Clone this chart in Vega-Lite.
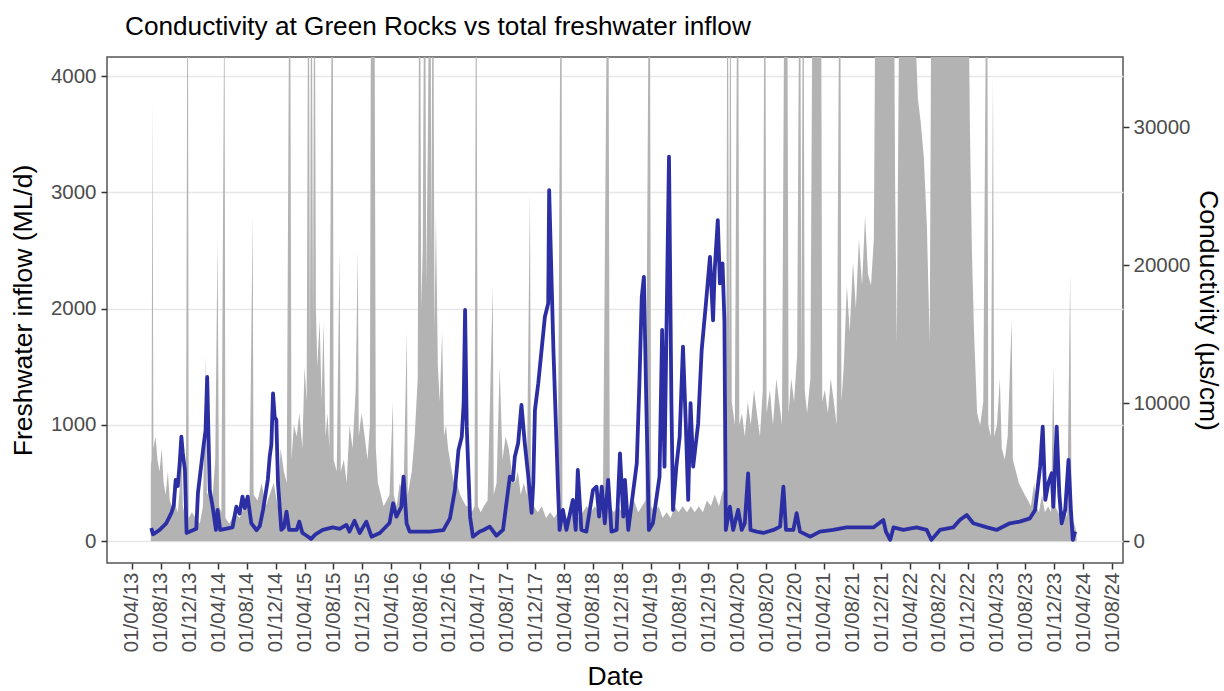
{
  "$schema": "https://vega.github.io/schema/vega-lite/v6.json",
  "width": 1016,
  "height": 506,
  "autosize": {"type": "none"},
  "padding": {"left": 107, "top": 57, "right": 101, "bottom": 128},
  "background": "white",
  "title": {
    "text": "Conductivity at Green Rocks vs total freshwater inflow",
    "anchor": "start",
    "frame": "group",
    "dx": 18,
    "offset": 17,
    "font": "Liberation Sans",
    "fontSize": 26.2,
    "fontWeight": "normal",
    "color": "#000000"
  },
  "config": {
    "view": {"stroke": "#555555", "strokeWidth": 1.5},
    "axis": {
      "labelFont": "Liberation Sans",
      "titleFont": "Liberation Sans",
      "labelFontSize": 20.5,
      "titleFontSize": 26.5,
      "titleFontWeight": "normal",
      "labelColor": "#4d4d4d",
      "titleColor": "#000000",
      "tickColor": "#333333",
      "tickWidth": 1.5,
      "tickSize": 6,
      "domain": false
    }
  },
  "datasets": {
    "inflow": [
      {"date": "2013-06-21", "inflow": 650},
      {"date": "2013-06-24", "inflow": 700},
      {"date": "2013-06-28", "inflow": 3800},
      {"date": "2013-07-02", "inflow": 800},
      {"date": "2013-07-11", "inflow": 900},
      {"date": "2013-07-19", "inflow": 700},
      {"date": "2013-07-28", "inflow": 600},
      {"date": "2013-08-06", "inflow": 800},
      {"date": "2013-08-14", "inflow": 500},
      {"date": "2013-08-23", "inflow": 400},
      {"date": "2013-09-01", "inflow": 600},
      {"date": "2013-09-09", "inflow": 350},
      {"date": "2013-09-18", "inflow": 300},
      {"date": "2013-09-26", "inflow": 500},
      {"date": "2013-10-04", "inflow": 300},
      {"date": "2013-10-13", "inflow": 250},
      {"date": "2013-10-21", "inflow": 450},
      {"date": "2013-10-29", "inflow": 870},
      {"date": "2013-11-03", "inflow": 300},
      {"date": "2013-11-16", "inflow": 200},
      {"date": "2013-11-24", "inflow": 6000},
      {"date": "2013-11-28", "inflow": 200},
      {"date": "2013-12-11", "inflow": 250},
      {"date": "2013-12-28", "inflow": 200},
      {"date": "2014-01-14", "inflow": 150},
      {"date": "2014-01-27", "inflow": 300},
      {"date": "2014-02-09", "inflow": 1600},
      {"date": "2014-02-13", "inflow": 400},
      {"date": "2014-02-25", "inflow": 450},
      {"date": "2014-03-08", "inflow": 350},
      {"date": "2014-03-20", "inflow": 700},
      {"date": "2014-03-30", "inflow": 2600},
      {"date": "2014-04-05", "inflow": 300},
      {"date": "2014-04-15", "inflow": 250},
      {"date": "2014-04-28", "inflow": 5000},
      {"date": "2014-05-02", "inflow": 200},
      {"date": "2014-05-19", "inflow": 150},
      {"date": "2014-06-10", "inflow": 250},
      {"date": "2014-07-01", "inflow": 200},
      {"date": "2014-07-21", "inflow": 300},
      {"date": "2014-08-12", "inflow": 400},
      {"date": "2014-08-25", "inflow": 2800},
      {"date": "2014-08-29", "inflow": 400},
      {"date": "2014-09-15", "inflow": 350},
      {"date": "2014-10-02", "inflow": 500},
      {"date": "2014-10-19", "inflow": 300},
      {"date": "2014-11-05", "inflow": 400},
      {"date": "2014-11-22", "inflow": 500},
      {"date": "2014-12-09", "inflow": 300},
      {"date": "2014-12-21", "inflow": 800},
      {"date": "2015-01-04", "inflow": 600},
      {"date": "2015-01-16", "inflow": 500},
      {"date": "2015-01-29", "inflow": 6000},
      {"date": "2015-02-05", "inflow": 700},
      {"date": "2015-02-15", "inflow": 1000},
      {"date": "2015-02-27", "inflow": 900},
      {"date": "2015-03-10", "inflow": 1100},
      {"date": "2015-03-23", "inflow": 800},
      {"date": "2015-04-01", "inflow": 1500},
      {"date": "2015-04-10", "inflow": 1200},
      {"date": "2015-04-18", "inflow": 6000},
      {"date": "2015-04-24", "inflow": 1500},
      {"date": "2015-04-30", "inflow": 6000},
      {"date": "2015-05-07", "inflow": 1800},
      {"date": "2015-05-13", "inflow": 6000},
      {"date": "2015-05-19", "inflow": 2000},
      {"date": "2015-05-25", "inflow": 1500},
      {"date": "2015-06-04", "inflow": 1900},
      {"date": "2015-06-12", "inflow": 1200},
      {"date": "2015-06-20", "inflow": 1880},
      {"date": "2015-06-29", "inflow": 900},
      {"date": "2015-07-07", "inflow": 1100},
      {"date": "2015-07-15", "inflow": 800},
      {"date": "2015-07-28", "inflow": 6000},
      {"date": "2015-08-02", "inflow": 700},
      {"date": "2015-08-15", "inflow": 600},
      {"date": "2015-08-27", "inflow": 2500},
      {"date": "2015-09-01", "inflow": 600},
      {"date": "2015-09-14", "inflow": 700},
      {"date": "2015-09-26", "inflow": 500},
      {"date": "2015-10-08", "inflow": 1000},
      {"date": "2015-10-21", "inflow": 800},
      {"date": "2015-11-03", "inflow": 1300},
      {"date": "2015-11-12", "inflow": 2500},
      {"date": "2015-11-16", "inflow": 900},
      {"date": "2015-11-28", "inflow": 1100},
      {"date": "2015-12-11", "inflow": 900},
      {"date": "2015-12-23", "inflow": 700},
      {"date": "2016-01-02", "inflow": 1000},
      {"date": "2016-01-08", "inflow": 6000},
      {"date": "2016-01-14", "inflow": 6000},
      {"date": "2016-01-20", "inflow": 6000},
      {"date": "2016-01-27", "inflow": 800},
      {"date": "2016-02-05", "inflow": 500},
      {"date": "2016-02-17", "inflow": 400},
      {"date": "2016-02-29", "inflow": 300},
      {"date": "2016-03-13", "inflow": 350},
      {"date": "2016-03-25", "inflow": 400},
      {"date": "2016-04-08", "inflow": 1200},
      {"date": "2016-04-12", "inflow": 400},
      {"date": "2016-04-24", "inflow": 300},
      {"date": "2016-05-07", "inflow": 500},
      {"date": "2016-05-23", "inflow": 400},
      {"date": "2016-06-06", "inflow": 1800},
      {"date": "2016-06-10", "inflow": 400},
      {"date": "2016-06-27", "inflow": 600},
      {"date": "2016-07-09", "inflow": 900},
      {"date": "2016-07-22", "inflow": 1400},
      {"date": "2016-07-30", "inflow": 6000},
      {"date": "2016-08-06", "inflow": 2000},
      {"date": "2016-08-12", "inflow": 2500},
      {"date": "2016-08-21", "inflow": 6000},
      {"date": "2016-08-27", "inflow": 2200},
      {"date": "2016-09-03", "inflow": 3500},
      {"date": "2016-09-12", "inflow": 6000},
      {"date": "2016-09-18", "inflow": 2500},
      {"date": "2016-09-24", "inflow": 6000},
      {"date": "2016-10-01", "inflow": 1800},
      {"date": "2016-10-07", "inflow": 2800},
      {"date": "2016-10-15", "inflow": 1500},
      {"date": "2016-10-23", "inflow": 1200},
      {"date": "2016-11-02", "inflow": 1800},
      {"date": "2016-11-10", "inflow": 900},
      {"date": "2016-11-18", "inflow": 1000},
      {"date": "2016-11-27", "inflow": 800},
      {"date": "2016-12-05", "inflow": 700},
      {"date": "2016-12-13", "inflow": 600},
      {"date": "2016-12-22", "inflow": 500},
      {"date": "2017-01-04", "inflow": 500},
      {"date": "2017-01-17", "inflow": 400},
      {"date": "2017-01-29", "inflow": 350},
      {"date": "2017-02-12", "inflow": 300},
      {"date": "2017-02-24", "inflow": 300},
      {"date": "2017-03-07", "inflow": 250},
      {"date": "2017-03-19", "inflow": 300},
      {"date": "2017-03-26", "inflow": 6000},
      {"date": "2017-04-02", "inflow": 300},
      {"date": "2017-04-14", "inflow": 250},
      {"date": "2017-04-27", "inflow": 300},
      {"date": "2017-05-13", "inflow": 350},
      {"date": "2017-06-04", "inflow": 2200},
      {"date": "2017-06-08", "inflow": 400},
      {"date": "2017-06-20", "inflow": 500},
      {"date": "2017-07-03", "inflow": 1500},
      {"date": "2017-07-15", "inflow": 700},
      {"date": "2017-07-28", "inflow": 900},
      {"date": "2017-08-10", "inflow": 800},
      {"date": "2017-08-23", "inflow": 600},
      {"date": "2017-09-05", "inflow": 500},
      {"date": "2017-09-18", "inflow": 600},
      {"date": "2017-09-30", "inflow": 400},
      {"date": "2017-10-13", "inflow": 500},
      {"date": "2017-10-25", "inflow": 400},
      {"date": "2017-11-08", "inflow": 3000},
      {"date": "2017-11-12", "inflow": 400},
      {"date": "2017-11-24", "inflow": 300},
      {"date": "2017-12-11", "inflow": 250},
      {"date": "2017-12-28", "inflow": 300},
      {"date": "2018-01-15", "inflow": 200},
      {"date": "2018-02-01", "inflow": 250},
      {"date": "2018-02-18", "inflow": 200},
      {"date": "2018-03-05", "inflow": 250},
      {"date": "2018-03-20", "inflow": 6000},
      {"date": "2018-03-25", "inflow": 250},
      {"date": "2018-04-12", "inflow": 200},
      {"date": "2018-04-29", "inflow": 250},
      {"date": "2018-05-15", "inflow": 300},
      {"date": "2018-06-02", "inflow": 200},
      {"date": "2018-06-19", "inflow": 250},
      {"date": "2018-07-05", "inflow": 300},
      {"date": "2018-07-22", "inflow": 250},
      {"date": "2018-08-09", "inflow": 300},
      {"date": "2018-08-25", "inflow": 250},
      {"date": "2018-09-12", "inflow": 350},
      {"date": "2018-10-04", "inflow": 6000},
      {"date": "2018-10-11", "inflow": 300},
      {"date": "2018-10-28", "inflow": 250},
      {"date": "2018-11-15", "inflow": 300},
      {"date": "2018-12-01", "inflow": 250},
      {"date": "2018-12-18", "inflow": 300},
      {"date": "2019-01-05", "inflow": 250},
      {"date": "2019-01-21", "inflow": 350},
      {"date": "2019-02-08", "inflow": 250},
      {"date": "2019-02-24", "inflow": 300},
      {"date": "2019-03-11", "inflow": 350},
      {"date": "2019-03-28", "inflow": 6000},
      {"date": "2019-04-04", "inflow": 300},
      {"date": "2019-04-18", "inflow": 250},
      {"date": "2019-05-05", "inflow": 300},
      {"date": "2019-05-22", "inflow": 200},
      {"date": "2019-06-08", "inflow": 250},
      {"date": "2019-06-25", "inflow": 200},
      {"date": "2019-07-12", "inflow": 300},
      {"date": "2019-07-28", "inflow": 250},
      {"date": "2019-08-15", "inflow": 300},
      {"date": "2019-09-02", "inflow": 250},
      {"date": "2019-09-18", "inflow": 300},
      {"date": "2019-10-05", "inflow": 250},
      {"date": "2019-10-22", "inflow": 300},
      {"date": "2019-11-08", "inflow": 250},
      {"date": "2019-11-25", "inflow": 350},
      {"date": "2019-12-12", "inflow": 300},
      {"date": "2019-12-28", "inflow": 400},
      {"date": "2020-01-15", "inflow": 300},
      {"date": "2020-02-02", "inflow": 450},
      {"date": "2020-02-14", "inflow": 300},
      {"date": "2020-02-20", "inflow": 6000},
      {"date": "2020-02-27", "inflow": 1500},
      {"date": "2020-03-03", "inflow": 6000},
      {"date": "2020-03-09", "inflow": 1200},
      {"date": "2020-03-22", "inflow": 1000},
      {"date": "2020-04-04", "inflow": 6000},
      {"date": "2020-04-10", "inflow": 1000},
      {"date": "2020-04-21", "inflow": 1100},
      {"date": "2020-05-03", "inflow": 900},
      {"date": "2020-05-16", "inflow": 1200},
      {"date": "2020-05-28", "inflow": 1000},
      {"date": "2020-06-11", "inflow": 1300},
      {"date": "2020-06-23", "inflow": 1100},
      {"date": "2020-07-06", "inflow": 900},
      {"date": "2020-07-18", "inflow": 1300},
      {"date": "2020-07-27", "inflow": 6000},
      {"date": "2020-08-03", "inflow": 1100},
      {"date": "2020-08-17", "inflow": 1300},
      {"date": "2020-08-30", "inflow": 1000},
      {"date": "2020-09-13", "inflow": 1400},
      {"date": "2020-09-25", "inflow": 1200},
      {"date": "2020-10-07", "inflow": 1000},
      {"date": "2020-10-20", "inflow": 6000},
      {"date": "2020-10-28", "inflow": 6000},
      {"date": "2020-11-04", "inflow": 1100},
      {"date": "2020-11-15", "inflow": 1400},
      {"date": "2020-11-27", "inflow": 1200},
      {"date": "2020-12-10", "inflow": 1600},
      {"date": "2020-12-22", "inflow": 6000},
      {"date": "2020-12-28", "inflow": 1500},
      {"date": "2021-01-05", "inflow": 6000},
      {"date": "2021-01-11", "inflow": 1300},
      {"date": "2021-01-21", "inflow": 1100},
      {"date": "2021-02-04", "inflow": 1400},
      {"date": "2021-02-16", "inflow": 6000},
      {"date": "2021-02-25", "inflow": 6000},
      {"date": "2021-03-03", "inflow": 6000},
      {"date": "2021-03-11", "inflow": 6000},
      {"date": "2021-03-20", "inflow": 6000},
      {"date": "2021-03-26", "inflow": 1200},
      {"date": "2021-04-06", "inflow": 1300},
      {"date": "2021-04-19", "inflow": 1100},
      {"date": "2021-05-01", "inflow": 1400},
      {"date": "2021-05-14", "inflow": 1200},
      {"date": "2021-05-26", "inflow": 1000},
      {"date": "2021-06-09", "inflow": 6000},
      {"date": "2021-06-15", "inflow": 1200},
      {"date": "2021-06-25", "inflow": 1500},
      {"date": "2021-07-08", "inflow": 2200},
      {"date": "2021-07-20", "inflow": 1800},
      {"date": "2021-08-03", "inflow": 2400},
      {"date": "2021-08-15", "inflow": 2000},
      {"date": "2021-08-28", "inflow": 2600},
      {"date": "2021-09-10", "inflow": 2200},
      {"date": "2021-09-23", "inflow": 2800},
      {"date": "2021-10-05", "inflow": 2300},
      {"date": "2021-10-18", "inflow": 2200},
      {"date": "2021-10-30", "inflow": 2600},
      {"date": "2021-11-09", "inflow": 6000},
      {"date": "2021-11-25", "inflow": 6000},
      {"date": "2021-12-16", "inflow": 6000},
      {"date": "2022-01-07", "inflow": 6000},
      {"date": "2022-01-20", "inflow": 6000},
      {"date": "2022-01-28", "inflow": 3000},
      {"date": "2022-02-04", "inflow": 1700},
      {"date": "2022-02-10", "inflow": 3500},
      {"date": "2022-02-19", "inflow": 6000},
      {"date": "2022-03-10", "inflow": 6000},
      {"date": "2022-04-01", "inflow": 6000},
      {"date": "2022-04-13", "inflow": 6000},
      {"date": "2022-04-21", "inflow": 4500},
      {"date": "2022-05-04", "inflow": 3800},
      {"date": "2022-05-16", "inflow": 3600},
      {"date": "2022-05-29", "inflow": 3300},
      {"date": "2022-06-11", "inflow": 2700},
      {"date": "2022-06-23", "inflow": 1700},
      {"date": "2022-07-02", "inflow": 6000},
      {"date": "2022-08-05", "inflow": 6000},
      {"date": "2022-09-17", "inflow": 6000},
      {"date": "2022-10-28", "inflow": 6000},
      {"date": "2022-11-23", "inflow": 6000},
      {"date": "2022-12-02", "inflow": 5000},
      {"date": "2022-12-10", "inflow": 3500},
      {"date": "2022-12-18", "inflow": 2500},
      {"date": "2022-12-27", "inflow": 1800},
      {"date": "2023-01-09", "inflow": 1100},
      {"date": "2023-01-22", "inflow": 1000},
      {"date": "2023-02-04", "inflow": 1200},
      {"date": "2023-02-20", "inflow": 6000},
      {"date": "2023-02-25", "inflow": 1000},
      {"date": "2023-03-08", "inflow": 900},
      {"date": "2023-03-17", "inflow": 4000},
      {"date": "2023-03-22", "inflow": 900},
      {"date": "2023-04-03", "inflow": 1000},
      {"date": "2023-04-15", "inflow": 1400},
      {"date": "2023-04-23", "inflow": 800},
      {"date": "2023-05-06", "inflow": 700},
      {"date": "2023-05-18", "inflow": 900},
      {"date": "2023-06-04", "inflow": 1900},
      {"date": "2023-06-09", "inflow": 700},
      {"date": "2023-06-22", "inflow": 600},
      {"date": "2023-07-04", "inflow": 500},
      {"date": "2023-07-17", "inflow": 450},
      {"date": "2023-07-29", "inflow": 400},
      {"date": "2023-08-12", "inflow": 350},
      {"date": "2023-08-24", "inflow": 300},
      {"date": "2023-09-07", "inflow": 500},
      {"date": "2023-09-15", "inflow": 300},
      {"date": "2023-09-27", "inflow": 250},
      {"date": "2023-10-10", "inflow": 400},
      {"date": "2023-10-22", "inflow": 250},
      {"date": "2023-11-05", "inflow": 300},
      {"date": "2023-11-17", "inflow": 250},
      {"date": "2023-11-27", "inflow": 1500},
      {"date": "2023-12-04", "inflow": 300},
      {"date": "2023-12-17", "inflow": 250},
      {"date": "2023-12-29", "inflow": 200},
      {"date": "2024-01-12", "inflow": 300},
      {"date": "2024-01-24", "inflow": 200},
      {"date": "2024-02-06", "inflow": 2300},
      {"date": "2024-02-12", "inflow": 200},
      {"date": "2024-02-23", "inflow": 150},
      {"date": "2024-03-01", "inflow": 100},
      {"date": "2024-03-05", "inflow": 0}
    ],
    "cond": [
      {"date": "2013-06-23", "cond": 960},
      {"date": "2013-06-30", "cond": 500},
      {"date": "2013-07-27", "cond": 800},
      {"date": "2013-08-25", "cond": 1300},
      {"date": "2013-09-16", "cond": 2050},
      {"date": "2013-09-26", "cond": 2600},
      {"date": "2013-10-04", "cond": 4440},
      {"date": "2013-10-13", "cond": 4000},
      {"date": "2013-10-21", "cond": 5670},
      {"date": "2013-10-28", "cond": 7570},
      {"date": "2013-11-03", "cond": 6400},
      {"date": "2013-11-12", "cond": 5160},
      {"date": "2013-11-19", "cond": 600},
      {"date": "2013-12-03", "cond": 700},
      {"date": "2013-12-30", "cond": 900},
      {"date": "2014-01-06", "cond": 3500},
      {"date": "2014-01-21", "cond": 5670},
      {"date": "2014-01-31", "cond": 7100},
      {"date": "2014-02-07", "cond": 8000},
      {"date": "2014-02-14", "cond": 11900},
      {"date": "2014-02-19", "cond": 8000},
      {"date": "2014-02-25", "cond": 3700},
      {"date": "2014-03-09", "cond": 2500},
      {"date": "2014-03-23", "cond": 820},
      {"date": "2014-03-30", "cond": 2270},
      {"date": "2014-04-10", "cond": 820},
      {"date": "2014-05-02", "cond": 900},
      {"date": "2014-06-01", "cond": 1000},
      {"date": "2014-06-17", "cond": 2500},
      {"date": "2014-07-01", "cond": 2000},
      {"date": "2014-07-13", "cond": 3230},
      {"date": "2014-07-23", "cond": 2400},
      {"date": "2014-08-04", "cond": 3230},
      {"date": "2014-08-19", "cond": 1320},
      {"date": "2014-09-10", "cond": 800},
      {"date": "2014-09-24", "cond": 1100},
      {"date": "2014-10-08", "cond": 2270},
      {"date": "2014-10-28", "cond": 4440},
      {"date": "2014-11-05", "cond": 6125},
      {"date": "2014-11-12", "cond": 7000},
      {"date": "2014-11-19", "cond": 10700},
      {"date": "2014-11-26", "cond": 9000},
      {"date": "2014-12-03", "cond": 8780},
      {"date": "2014-12-10", "cond": 4220},
      {"date": "2014-12-24", "cond": 820},
      {"date": "2015-01-04", "cond": 1000},
      {"date": "2015-01-15", "cond": 2140},
      {"date": "2015-01-26", "cond": 820},
      {"date": "2015-02-27", "cond": 820},
      {"date": "2015-03-10", "cond": 1420},
      {"date": "2015-03-23", "cond": 600},
      {"date": "2015-04-10", "cond": 400},
      {"date": "2015-04-29", "cond": 170},
      {"date": "2015-05-17", "cond": 500},
      {"date": "2015-06-17", "cond": 820},
      {"date": "2015-07-29", "cond": 1000},
      {"date": "2015-08-27", "cond": 900},
      {"date": "2015-09-25", "cond": 1180},
      {"date": "2015-10-08", "cond": 700},
      {"date": "2015-10-29", "cond": 1490},
      {"date": "2015-11-20", "cond": 600},
      {"date": "2015-12-18", "cond": 1420},
      {"date": "2016-01-09", "cond": 330},
      {"date": "2016-02-13", "cond": 600},
      {"date": "2016-03-25", "cond": 1320},
      {"date": "2016-04-09", "cond": 2750},
      {"date": "2016-04-23", "cond": 1780},
      {"date": "2016-05-14", "cond": 2500},
      {"date": "2016-05-23", "cond": 4680},
      {"date": "2016-06-05", "cond": 1300},
      {"date": "2016-06-18", "cond": 700},
      {"date": "2016-07-30", "cond": 700},
      {"date": "2016-09-12", "cond": 700},
      {"date": "2016-11-07", "cond": 800},
      {"date": "2016-12-05", "cond": 1660},
      {"date": "2016-12-26", "cond": 3700},
      {"date": "2017-01-10", "cond": 6600},
      {"date": "2017-01-24", "cond": 7570},
      {"date": "2017-02-01", "cond": 10000},
      {"date": "2017-02-07", "cond": 16750},
      {"date": "2017-02-14", "cond": 8300},
      {"date": "2017-02-28", "cond": 1780},
      {"date": "2017-03-12", "cond": 330},
      {"date": "2017-04-10", "cond": 700},
      {"date": "2017-04-24", "cond": 800},
      {"date": "2017-05-22", "cond": 1060},
      {"date": "2017-06-19", "cond": 400},
      {"date": "2017-07-17", "cond": 820},
      {"date": "2017-08-15", "cond": 4680},
      {"date": "2017-08-28", "cond": 4440},
      {"date": "2017-09-05", "cond": 6125},
      {"date": "2017-09-19", "cond": 7100},
      {"date": "2017-10-03", "cond": 9870},
      {"date": "2017-10-17", "cond": 7100},
      {"date": "2017-11-01", "cond": 4680},
      {"date": "2017-11-15", "cond": 2050},
      {"date": "2017-11-22", "cond": 4220},
      {"date": "2017-11-29", "cond": 9500},
      {"date": "2017-12-13", "cond": 11440},
      {"date": "2017-12-27", "cond": 13850},
      {"date": "2018-01-10", "cond": 16260},
      {"date": "2018-01-24", "cond": 17230},
      {"date": "2018-01-28", "cond": 25430},
      {"date": "2018-02-15", "cond": 13850},
      {"date": "2018-03-06", "cond": 4000},
      {"date": "2018-03-13", "cond": 820},
      {"date": "2018-03-27", "cond": 2270},
      {"date": "2018-04-11", "cond": 820},
      {"date": "2018-05-08", "cond": 2990},
      {"date": "2018-05-20", "cond": 820},
      {"date": "2018-05-29", "cond": 5160},
      {"date": "2018-06-13", "cond": 820},
      {"date": "2018-07-04", "cond": 700},
      {"date": "2018-08-01", "cond": 3700},
      {"date": "2018-08-16", "cond": 3950},
      {"date": "2018-08-27", "cond": 1780},
      {"date": "2018-09-07", "cond": 3950},
      {"date": "2018-09-20", "cond": 1300},
      {"date": "2018-10-04", "cond": 4440},
      {"date": "2018-10-18", "cond": 700},
      {"date": "2018-11-09", "cond": 820},
      {"date": "2018-11-23", "cond": 6370},
      {"date": "2018-12-07", "cond": 1780},
      {"date": "2018-12-14", "cond": 4440},
      {"date": "2018-12-28", "cond": 820},
      {"date": "2019-02-02", "cond": 5650},
      {"date": "2019-02-13", "cond": 11440},
      {"date": "2019-02-23", "cond": 17700},
      {"date": "2019-03-04", "cond": 19150},
      {"date": "2019-03-14", "cond": 10230},
      {"date": "2019-03-25", "cond": 820},
      {"date": "2019-04-11", "cond": 1300},
      {"date": "2019-04-25", "cond": 2990},
      {"date": "2019-05-09", "cond": 4680},
      {"date": "2019-05-20", "cond": 15300},
      {"date": "2019-05-30", "cond": 5400},
      {"date": "2019-06-18", "cond": 27850},
      {"date": "2019-06-28", "cond": 10230},
      {"date": "2019-07-05", "cond": 2270},
      {"date": "2019-07-19", "cond": 5400},
      {"date": "2019-08-02", "cond": 7570},
      {"date": "2019-08-16", "cond": 14100},
      {"date": "2019-08-28", "cond": 8500},
      {"date": "2019-09-07", "cond": 2990},
      {"date": "2019-09-17", "cond": 10000},
      {"date": "2019-09-28", "cond": 5400},
      {"date": "2019-10-19", "cond": 8500},
      {"date": "2019-11-03", "cond": 13850},
      {"date": "2019-11-21", "cond": 17230},
      {"date": "2019-12-08", "cond": 20600},
      {"date": "2019-12-21", "cond": 16000},
      {"date": "2019-12-28", "cond": 19640},
      {"date": "2020-01-10", "cond": 23260},
      {"date": "2020-01-19", "cond": 18680},
      {"date": "2020-01-30", "cond": 20130},
      {"date": "2020-02-07", "cond": 16000},
      {"date": "2020-02-13", "cond": 820},
      {"date": "2020-03-01", "cond": 2500},
      {"date": "2020-03-15", "cond": 820},
      {"date": "2020-04-05", "cond": 2270},
      {"date": "2020-04-20", "cond": 820},
      {"date": "2020-05-03", "cond": 1300},
      {"date": "2020-05-17", "cond": 4920},
      {"date": "2020-05-27", "cond": 820},
      {"date": "2020-06-22", "cond": 700},
      {"date": "2020-07-20", "cond": 600},
      {"date": "2020-09-01", "cond": 820},
      {"date": "2020-09-29", "cond": 1060},
      {"date": "2020-10-13", "cond": 3950},
      {"date": "2020-10-24", "cond": 820},
      {"date": "2020-11-24", "cond": 820},
      {"date": "2020-12-08", "cond": 2030},
      {"date": "2020-12-22", "cond": 700},
      {"date": "2021-02-04", "cond": 330},
      {"date": "2021-03-16", "cond": 700},
      {"date": "2021-05-11", "cond": 820},
      {"date": "2021-07-07", "cond": 1000},
      {"date": "2021-09-02", "cond": 1000},
      {"date": "2021-10-28", "cond": 1000},
      {"date": "2021-12-09", "cond": 1540},
      {"date": "2021-12-20", "cond": 700},
      {"date": "2022-01-07", "cond": 100},
      {"date": "2022-01-21", "cond": 1000},
      {"date": "2022-03-03", "cond": 820},
      {"date": "2022-04-28", "cond": 1000},
      {"date": "2022-06-10", "cond": 820},
      {"date": "2022-06-30", "cond": 100},
      {"date": "2022-08-05", "cond": 820},
      {"date": "2022-09-30", "cond": 1000},
      {"date": "2022-10-28", "cond": 1540},
      {"date": "2022-11-26", "cond": 1900},
      {"date": "2022-12-24", "cond": 1300},
      {"date": "2023-02-20", "cond": 1000},
      {"date": "2023-04-01", "cond": 820},
      {"date": "2023-05-27", "cond": 1300},
      {"date": "2023-07-08", "cond": 1420},
      {"date": "2023-08-20", "cond": 1660},
      {"date": "2023-09-11", "cond": 2270},
      {"date": "2023-10-02", "cond": 5400},
      {"date": "2023-10-13", "cond": 8300},
      {"date": "2023-10-24", "cond": 2990},
      {"date": "2023-11-06", "cond": 4220},
      {"date": "2023-11-20", "cond": 4920},
      {"date": "2023-11-27", "cond": 2500},
      {"date": "2023-12-11", "cond": 8300},
      {"date": "2023-12-22", "cond": 3460},
      {"date": "2024-01-01", "cond": 1300},
      {"date": "2024-01-16", "cond": 2270},
      {"date": "2024-01-30", "cond": 5890},
      {"date": "2024-02-09", "cond": 2270},
      {"date": "2024-02-17", "cond": 100},
      {"date": "2024-02-27", "cond": 700}
    ]
  },
  "encoding": {
    "x": {
      "field": "date",
      "type": "temporal",
      "title": "Date",
      "scale": {
        "type": "utc",
        "domain": [
          {"year": 2012, "month": 12, "date": 18, "utc": true},
          {"year": 2024, "month": 9, "date": 16, "utc": true}
        ]
      },
      "axis": {
        "format": "%d/%m/%y",
        "labelAngle": 270,
        "labelPadding": 3,
        "titlePadding": 12,
        "labelOverlap": false,
        "labelFlush": false,
        "grid": false,
        "values": [
          {"year": 2013, "month": 4, "date": 1, "utc": true},
          {"year": 2013, "month": 8, "date": 1, "utc": true},
          {"year": 2013, "month": 12, "date": 1, "utc": true},
          {"year": 2014, "month": 4, "date": 1, "utc": true},
          {"year": 2014, "month": 8, "date": 1, "utc": true},
          {"year": 2014, "month": 12, "date": 1, "utc": true},
          {"year": 2015, "month": 4, "date": 1, "utc": true},
          {"year": 2015, "month": 8, "date": 1, "utc": true},
          {"year": 2015, "month": 12, "date": 1, "utc": true},
          {"year": 2016, "month": 4, "date": 1, "utc": true},
          {"year": 2016, "month": 8, "date": 1, "utc": true},
          {"year": 2016, "month": 12, "date": 1, "utc": true},
          {"year": 2017, "month": 4, "date": 1, "utc": true},
          {"year": 2017, "month": 8, "date": 1, "utc": true},
          {"year": 2017, "month": 12, "date": 1, "utc": true},
          {"year": 2018, "month": 4, "date": 1, "utc": true},
          {"year": 2018, "month": 8, "date": 1, "utc": true},
          {"year": 2018, "month": 12, "date": 1, "utc": true},
          {"year": 2019, "month": 4, "date": 1, "utc": true},
          {"year": 2019, "month": 8, "date": 1, "utc": true},
          {"year": 2019, "month": 12, "date": 1, "utc": true},
          {"year": 2020, "month": 4, "date": 1, "utc": true},
          {"year": 2020, "month": 8, "date": 1, "utc": true},
          {"year": 2020, "month": 12, "date": 1, "utc": true},
          {"year": 2021, "month": 4, "date": 1, "utc": true},
          {"year": 2021, "month": 8, "date": 1, "utc": true},
          {"year": 2021, "month": 12, "date": 1, "utc": true},
          {"year": 2022, "month": 4, "date": 1, "utc": true},
          {"year": 2022, "month": 8, "date": 1, "utc": true},
          {"year": 2022, "month": 12, "date": 1, "utc": true},
          {"year": 2023, "month": 4, "date": 1, "utc": true},
          {"year": 2023, "month": 8, "date": 1, "utc": true},
          {"year": 2023, "month": 12, "date": 1, "utc": true},
          {"year": 2024, "month": 4, "date": 1, "utc": true},
          {"year": 2024, "month": 8, "date": 1, "utc": true}
        ]
      }
    }
  },
  "layer": [
    {
      "data": {"name": "inflow"},
      "mark": {"type": "area", "color": "#b3b3b3", "clip": true, "interpolate": "linear"},
      "encoding": {
        "y": {
          "field": "inflow",
          "type": "quantitative",
          "title": "Freshwater inflow (ML/d)",
          "scale": {"domain": [-187, 4164], "nice": false, "zero": false},
          "axis": {
            "orient": "left",
            "values": [0, 1000, 2000, 3000, 4000],
            "format": "d",
            "grid": true,
            "gridColor": "#e8e8e8",
            "gridWidth": 1.5,
            "labelPadding": 5,
            "titlePadding": 13
          }
        }
      }
    },
    {
      "data": {"name": "cond"},
      "mark": {"type": "line", "color": "#2c2fa3", "strokeWidth": 3.8, "strokeJoin": "round", "clip": true},
      "encoding": {
        "y": {
          "field": "cond",
          "type": "quantitative",
          "title": "Conductivity (µs/cm)",
          "scale": {"domain": [-1575, 35070], "nice": false, "zero": false},
          "axis": {
            "orient": "right",
            "values": [0, 10000, 20000, 30000],
            "format": "d",
            "grid": false,
            "labelPadding": 4,
            "titlePadding": 3
          }
        }
      }
    }
  ],
  "resolve": {"scale": {"y": "independent"}, "axis": {"y": "independent"}}
}
